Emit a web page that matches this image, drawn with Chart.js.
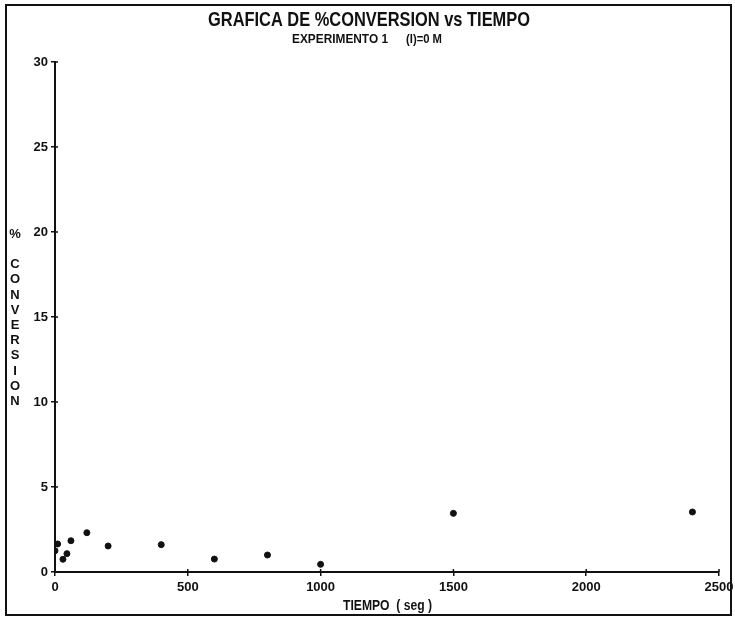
<!DOCTYPE html>
<html>
<head>
<meta charset="utf-8">
<script src="https://cdn.jsdelivr.net/npm/chart.js@4.4.1/dist/chart.umd.min.js"></script>
<style>
  html, body { margin: 0; padding: 0; background: #fff; }
  #wrap { width: 735px; height: 617px; }
</style>
</head>
<body>
<div id="wrap"><canvas id="chart" width="735" height="617"></canvas></div>
<script>
// datos
const tiempo = [0, 10, 30, 45, 60, 120, 200, 400, 600, 800, 1000, 1500, 2400];
const conversion = [1.25, 1.65, 0.75, 1.08, 1.84, 2.31, 1.53, 1.61, 0.76, 1.0, 0.45, 3.45, 3.53];
const xTicks = [0, 500, 1000, 1500, 2000, 2500];
const yTicks = [0, 5, 10, 15, 20, 25, 30];

const titulo = "GRAFICA DE %CONVERSION vs TIEMPO";
const subtitulo1 = "EXPERIMENTO 1";
const subtitulo2 = "(I)=0 M";
const tituloX = "TIEMPO  ( seg )";
const tituloY = ["%", "", "C", "O", "N", "V", "E", "R", "S", "I", "O", "N"];

const FONT = "'Liberation Sans', Arial, sans-serif";

// texto ajustado a un ancho dado (la fuente original es condensada)
function fitText(ctx, text, x, y, width) {
  const w = ctx.measureText(text).width;
  ctx.save();
  ctx.translate(x, y);
  ctx.scale(width / w, 1);
  ctx.textAlign = "left";
  ctx.fillText(text, 0, 0);
  ctx.restore();
}

const decor = {
  id: "decor",
  afterDraw(chart) {
    const ctx = chart.ctx;
    const xs = chart.scales.x, ys = chart.scales.y;
    const a = chart.chartArea;
    ctx.save();
    // marco
    ctx.strokeStyle = "#111";
    ctx.lineWidth = 2;
    ctx.strokeRect(6, 5, 725, 610);

    // marcas que cruzan el eje
    ctx.lineWidth = 1.5;
    xTicks.forEach((t) => {
      const px = xs.getPixelForValue(t);
      ctx.beginPath();
      ctx.moveTo(px, a.bottom - 3);
      ctx.lineTo(px, a.bottom);
      ctx.stroke();
    });
    yTicks.forEach((t) => {
      const py = ys.getPixelForValue(t);
      ctx.beginPath();
      ctx.moveTo(a.left, py);
      ctx.lineTo(a.left + 3, py);
      ctx.stroke();
    });

    ctx.fillStyle = "#111";
    ctx.textBaseline = "alphabetic";
    ctx.font = "bold 21px " + FONT;
    fitText(ctx, titulo, 208, 26, 322);
    ctx.font = "bold 12px " + FONT;
    fitText(ctx, subtitulo1, 292, 43, 96);
    fitText(ctx, subtitulo2, 406, 43, 36);

    ctx.font = "bold 14px " + FONT;
    fitText(ctx, tituloX, 343, 610, 89);

    ctx.font = "bold 13px " + FONT;
    ctx.textAlign = "center";
    ctx.textBaseline = "middle";
    let y = 234;
    tituloY.forEach((ch) => {
      if (ch) ctx.fillText(ch, 15, y);
      y += ch === "%" ? 15.5 : 15.2;
    });
    ctx.restore();
  },
};

new Chart(document.getElementById("chart").getContext("2d"), {
  type: "scatter",
  data: {
    datasets: [
      {
        label: "% conversion",
        data: tiempo.map((t, i) => ({ x: t, y: conversion[i] })),
        backgroundColor: "#111",
        borderColor: "#111",
        pointRadius: 3,
        pointHoverRadius: 3,
      },
    ],
  },
  options: {
    responsive: false,
    animation: false,
    layout: { padding: { left: 0, right: 16, top: 62, bottom: 0 } },
    plugins: {
      legend: { display: false },
      tooltip: { enabled: false },
    },
    scales: {
      x: {
        type: "linear",
        min: 0,
        max: 2500,
        afterFit: (s) => { s.height = 45; s.paddingLeft = 0; s.paddingRight = 0; },
        afterBuildTicks: (s) => { s.ticks = xTicks.map((v) => ({ value: v })); },
        grid: { drawOnChartArea: false, tickLength: 4, color: "#111", lineWidth: 1.5 },
        border: { color: "#111", width: 2 },
        ticks: {
          color: "#111",
          padding: 4,
          font: { family: FONT, size: 13, weight: "bold" },
          callback: (v) => String(v),
        },
      },
      y: {
        type: "linear",
        min: 0,
        max: 30,
        afterFit: (s) => { s.width = 55; s.paddingTop = 0; s.paddingBottom = 0; },
        afterBuildTicks: (s) => { s.ticks = yTicks.map((v) => ({ value: v })); },
        grid: { drawOnChartArea: false, tickLength: 4, color: "#111", lineWidth: 1.5 },
        border: { color: "#111", width: 2 },
        ticks: {
          color: "#111",
          padding: 3,
          font: { family: FONT, size: 13, weight: "bold" },
          callback: (v) => String(v),
        },
      },
    },
  },
  plugins: [decor],
});
</script>
</body>
</html>
